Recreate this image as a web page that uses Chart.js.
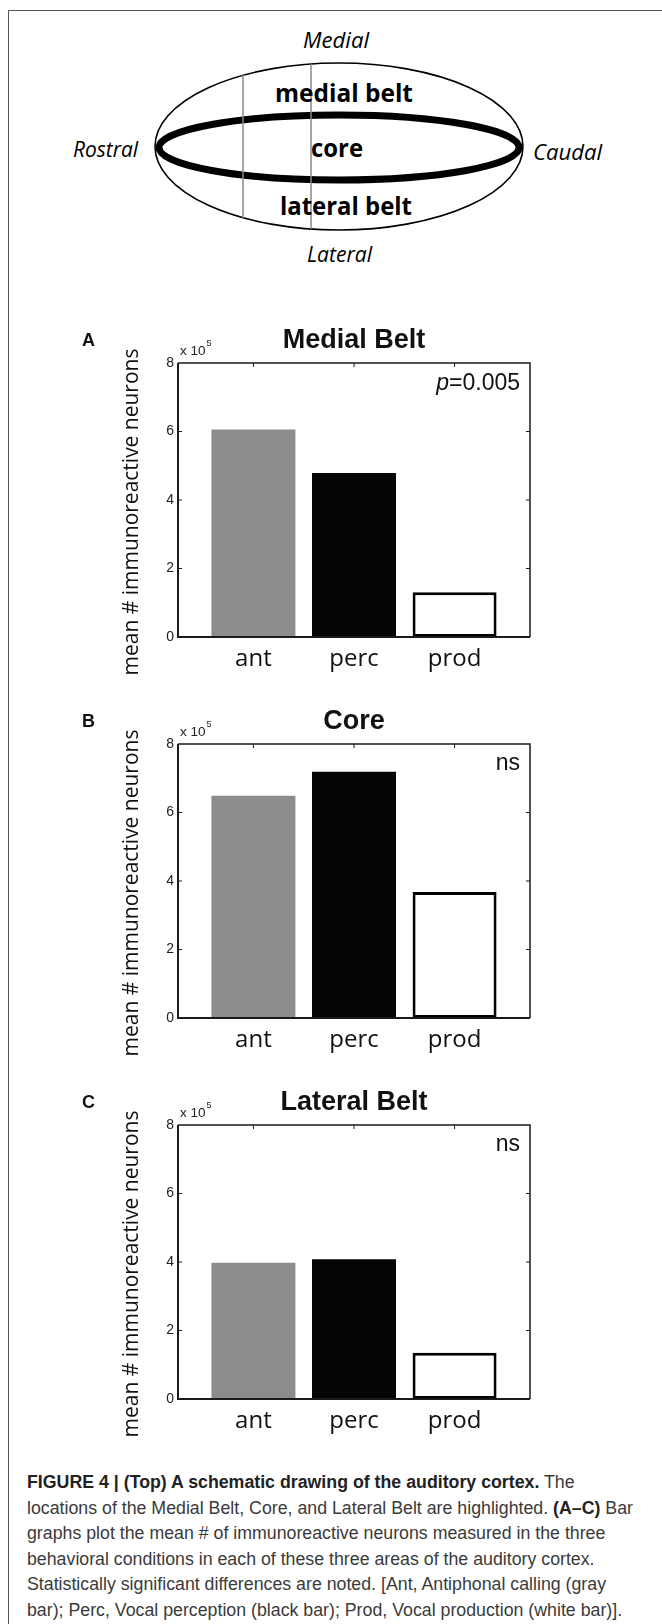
<!DOCTYPE html>
<html>
<head>
<meta charset="utf-8">
<script src="https://cdn.jsdelivr.net/npm/chart.js@4.4.1/dist/chart.umd.min.js"></script>
<style>
  html, body { margin: 0; padding: 0; background: #fff; }
  #page { position: relative; width: 662px; height: 1624px; overflow: hidden; }
  #frame { position: absolute; left: 8px; top: 10px; width: 720px; height: 1700px;
           border-left: 1.5px solid #555; border-top: 1.5px solid #555; }
  #schema { position: absolute; left: 0; top: 0; }
  .panel { position: absolute; left: 0; width: 662px; height: 381px; }
  #caption { position: absolute; left: 27px; top: 1470px; color: #3a3a3a;
             font-family: "Liberation Sans", Arial, sans-serif;
             font-size: 17.5px; line-height: 25.5px; white-space: nowrap;
             transform-origin: left top; }
  #caption b { color: #222; }
</style>
</head>
<body>
<div id="page">
  <div id="frame"></div>

  <svg id="schema" width="662" height="290" font-family="'Open Sans', sans-serif">
    <ellipse cx="339" cy="146.5" rx="184" ry="83.5" fill="none" stroke="#000" stroke-width="1.6"/>
    <ellipse cx="339" cy="147.5" rx="180" ry="32.5" fill="none" stroke="#000" stroke-width="7"/>
    <line x1="243" y1="75" x2="243" y2="218" stroke="#8a8a8a" stroke-width="1.5"/>
    <line x1="311" y1="64" x2="311" y2="229" stroke="#8a8a8a" stroke-width="1.5"/>
    <text x="336" y="48" text-anchor="middle" font-style="italic" font-size="21" textLength="66" lengthAdjust="spacingAndGlyphs">Medial</text>
    <text x="339.5" y="261.5" text-anchor="middle" font-style="italic" font-size="21" textLength="65" lengthAdjust="spacingAndGlyphs">Lateral</text>
    <text x="105.5" y="156.5" text-anchor="middle" font-style="italic" font-size="21" textLength="65" lengthAdjust="spacingAndGlyphs">Rostral</text>
    <text x="567.5" y="160" text-anchor="middle" font-style="italic" font-size="21" textLength="69" lengthAdjust="spacingAndGlyphs">Caudal</text>
    <text x="344" y="102" text-anchor="middle" font-weight="bold" font-size="25" textLength="138" lengthAdjust="spacingAndGlyphs">medial belt</text>
    <text x="337" y="156.5" text-anchor="middle" font-weight="bold" font-size="25" textLength="52" lengthAdjust="spacingAndGlyphs">core</text>
    <text x="346" y="215" text-anchor="middle" font-weight="bold" font-size="25" textLength="132" lengthAdjust="spacingAndGlyphs">lateral belt</text>
  </svg>

  <div class="panel" style="top:318px"><canvas id="chartA" width="662" height="381"></canvas></div>
  <div class="panel" style="top:699px"><canvas id="chartB" width="662" height="381"></canvas></div>
  <div class="panel" style="top:1080px"><canvas id="chartC" width="662" height="381"></canvas></div>

  <div id="caption">
    <div><b>FIGURE 4 | (Top) A schematic drawing of the auditory cortex.</b> The</div>
    <div id="capLine2">locations of the Medial Belt, Core, and Lateral Belt are highlighted. <b>(A–C)</b> Bar</div>
    <div>graphs plot the mean # of immunoreactive neurons measured in the three</div>
    <div>behavioral conditions in each of these three areas of the auditory cortex.</div>
    <div>Statistically significant differences are noted. [Ant, Antiphonal calling (gray</div>
    <div>bar); Perc, Vocal perception (black bar); Prod, Vocal production (white bar)].</div>
  </div>
</div>

<script>
// values are in units of 10^5 neurons
const categories = ["ant", "perc", "prod"];
const medialBelt = [6.06, 4.79, 1.31];
const core = [6.49, 7.19, 3.68];
const lateralBelt = [3.98, 4.08, 1.35];
const yTicks = [0, 2, 4, 6, 8];

const panelIds = ["chartA", "chartB", "chartC"];
const panelLetters = ["A", "B", "C"];
const panelTitles = ["Medial Belt", "Core", "Lateral Belt"];
const panelNotes = ["p=0.005", "ns", "ns"];
const panelValues = [medialBelt, core, lateralBelt];

const barFill = ["#8c8c8c", "#050505", "#ffffff"];
const barEdge = ["#8c8c8c", "#050505", "#000000"];
const barEdgeWidth = [0, 0, 3];

const ARIAL = '"Liberation Sans", Arial, sans-serif';
const HUMANIST = '"Open Sans", sans-serif';

// caption is set in a narrow sans: squeeze Liberation Sans to the figure's line length
const cap = document.getElementById("caption");
const line2 = document.getElementById("capLine2");
const range = document.createRange();
range.selectNodeContents(line2);
cap.style.transform = "scaleX(" + (606 / range.getBoundingClientRect().width).toFixed(4) + ")";

// MATLAB-like box, inward ticks and the panel texts
const matlabAxes = {
  id: "matlabAxes",
  afterDatasetsDraw(chart, args, opts) {
    const { ctx, chartArea: a, scales: { x, y } } = chart;
    ctx.save();
    ctx.strokeStyle = "#1a1a1a";
    ctx.lineWidth = 1.5;
    ctx.beginPath();
    ctx.moveTo(a.left, a.top); ctx.lineTo(a.right, a.top); ctx.lineTo(a.right, a.bottom);
    ctx.stroke();
    ctx.lineWidth = 2;
    ctx.beginPath();
    ctx.moveTo(a.left, a.top); ctx.lineTo(a.left, a.bottom); ctx.lineTo(a.right, a.bottom);
    ctx.stroke();

    ctx.lineWidth = 1;
    ctx.beginPath();
    x.ticks.forEach(t => {
      const px = x.getPixelForValue(t.value);
      ctx.moveTo(px, a.top); ctx.lineTo(px, a.top + 4);
    });
    y.ticks.forEach(t => {
      if (t.value === y.min || t.value === y.max) return;
      const py = y.getPixelForValue(t.value);
      ctx.moveTo(a.left, py); ctx.lineTo(a.left + 4, py);
      ctx.moveTo(a.right, py); ctx.lineTo(a.right - 4, py);
    });
    ctx.stroke();
    ctx.restore();
  },
  afterDraw(chart, args, opts) {
    const { ctx, chartArea: a } = chart;
    ctx.save();
    ctx.fillStyle = "#111";
    ctx.textBaseline = "alphabetic";

    // panel letter
    ctx.textAlign = "left";
    ctx.font = "bold 18px " + ARIAL;
    ctx.fillText(opts.letter, 82, a.top - 17);

    // title
    ctx.textAlign = "center";
    ctx.font = "bold 27px " + ARIAL;
    ctx.fillText(opts.title, (a.left + a.right) / 2, a.top - 15);

    // x 10^5 exponent label
    ctx.textAlign = "left";
    ctx.fillStyle = "#222";
    ctx.font = "13.5px " + ARIAL;
    ctx.fillText("x 10", a.left + 2, a.top - 8);
    const w = ctx.measureText("x 10").width;
    ctx.font = "9px " + ARIAL;
    ctx.fillText("5", a.left + 2 + w + 1, a.top - 17);

    // significance note
    ctx.fillStyle = "#111";
    ctx.textAlign = "right";
    ctx.font = "23px " + ARIAL;
    const note = opts.note;
    if (note.startsWith("p=")) {
      const rest = note.slice(1);
      ctx.fillText(rest, a.right - 10, a.top + 27);
      const rw = ctx.measureText(rest).width;
      ctx.font = "italic 23px " + ARIAL;
      ctx.fillText("p", a.right - 10 - rw, a.top + 27);
    } else {
      ctx.fillText(note, a.right - 10, a.top + 26);
    }

    // y-axis title, fitted to its length in the figure
    const label = "mean # immunoreactive neurons";
    ctx.font = "20px " + HUMANIST;
    const size = 20 * 327 / ctx.measureText(label).width;
    ctx.font = size.toFixed(2) + "px " + HUMANIST;
    ctx.translate(138, (a.top + a.bottom) / 2 + 12);
    ctx.rotate(-Math.PI / 2);
    ctx.textAlign = "center";
    ctx.fillText(label, 0, 0);
    ctx.restore();
  }
};

panelIds.forEach((id, p) => {
  const ctx = document.getElementById(id).getContext("2d");
  new Chart(ctx, {
    type: "bar",
    data: {
      datasets: [{
        data: panelValues[p].map((v, i) => ({ x: i + 1, y: v })),
        backgroundColor: barFill,
        borderColor: barEdge,
        borderWidth: barEdgeWidth,
        borderSkipped: false,
        barPercentage: 0.835,
        categoryPercentage: 1
      }]
    },
    options: {
      responsive: false,
      animation: false,
      events: [],
      layout: { padding: { left: 0, right: 132, top: 45, bottom: 0 } },
      plugins: {
        legend: { display: false },
        tooltip: { enabled: false },
        matlabAxes: { letter: panelLetters[p], title: panelTitles[p], note: panelNotes[p] }
      },
      scales: {
        x: {
          type: "linear",
          offset: false,
          min: 0.25,
          max: 3.75,
          grid: { display: false, drawTicks: false },
          border: { display: false },
          afterBuildTicks: axis => { axis.ticks = categories.map((c, i) => ({ value: i + 1 })); },
          afterFit: axis => { axis.height = 62; },
          ticks: {
            autoSkip: false,
            maxRotation: 0,
            padding: 8,
            color: "#111",
            font: { family: HUMANIST, size: 24 },
            callback: v => categories[v - 1]
          }
        },
        y: {
          min: yTicks[0],
          max: yTicks[yTicks.length - 1],
          grid: { display: false, drawTicks: false },
          border: { display: false },
          afterBuildTicks: axis => { axis.ticks = yTicks.map(v => ({ value: v })); },
          afterFit: axis => { axis.width = 178; },
          ticks: {
            padding: 4,
            color: "#222",
            font: { family: ARIAL, size: 14 }
          }
        }
      }
    },
    plugins: [matlabAxes]
  });
});
</script>
</body>
</html>
